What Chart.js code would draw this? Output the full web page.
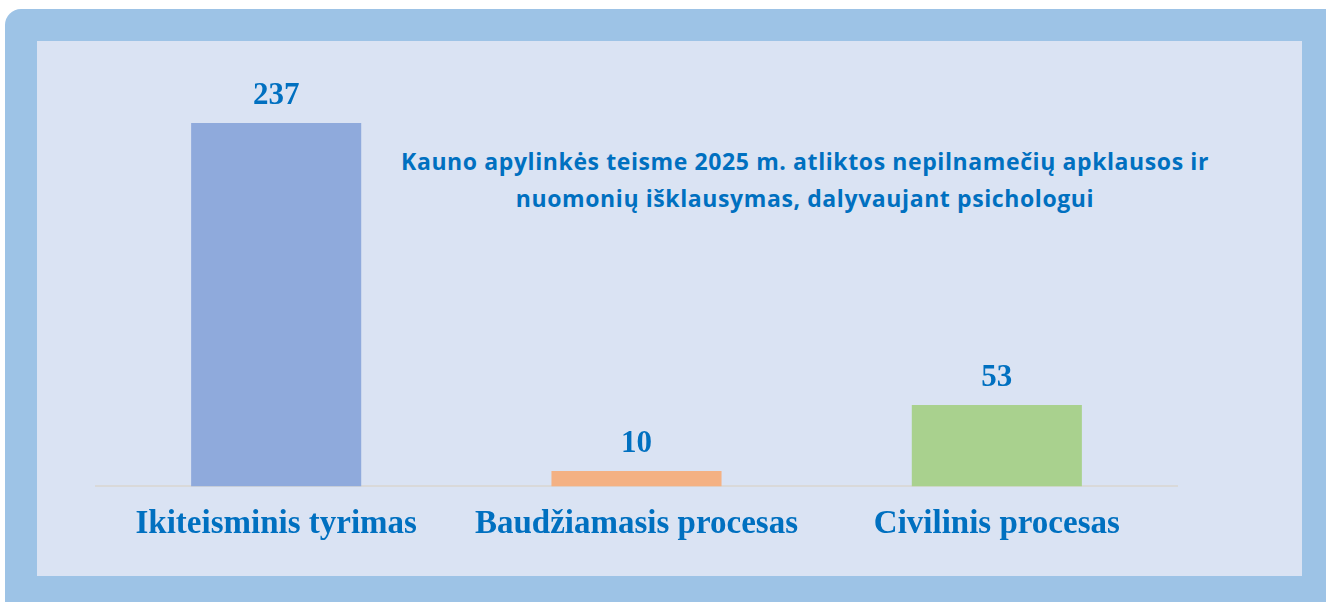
<!DOCTYPE html>
<html>
<head>
<meta charset="utf-8">
<script src="https://cdn.jsdelivr.net/npm/chart.js@4"></script>
<style>
  html, body { margin: 0; padding: 0; background: #ffffff; overflow: hidden; }
  #frame {
    position: absolute; left: 5px; top: 9px; width: 1340px; height: 610px;
    background: #9dc3e6; border-radius: 16px;
  }
  #panel {
    position: absolute; left: 37px; top: 41px; width: 1265px; height: 535px;
    background: #dae3f3;
  }
  #title {
    position: absolute; left: 355px; top: 143px; width: 900px;
    text-align: center; color: #0070c0;
    font-family: "Open Sans", sans-serif; font-weight: bold; font-size: 23px;
    letter-spacing: 0.6px; line-height: 37px;
  }
  #myChart { position: absolute; left: 0; top: 0; }
</style>
</head>
<body>
<div id="frame"></div>
<div id="panel"></div>
<div id="title">Kauno apylinkės teisme 2025 m. atliktos nepilnamečių apklausos ir<br>nuomonių išklausymas, dalyvaujant psichologui</div>
<canvas id="myChart" width="1326" height="602"></canvas>
<script>
// Chart data
const categories = ["Ikiteisminis tyrimas", "Baudžiamasis procesas", "Civilinis procesas"];
const values = [237, 10, 53];
const barColors = ["#8faadc", "#f4b183", "#a9d18e"];

const textColor = "#0070c0";
const ctx = document.getElementById('myChart');

// Draws the value above each bar
const valueLabels = {
  id: 'valueLabels',
  afterDatasetsDraw(chart) {
    const c = chart.ctx;
    const meta = chart.getDatasetMeta(0);
    c.save();
    c.font = 'bold 31px "Liberation Serif", "Times New Roman", serif';
    c.fillStyle = textColor;
    c.textAlign = 'center';
    c.textBaseline = 'alphabetic';
    meta.data.forEach((bar, i) => {
      c.fillText(String(values[i]), bar.x, bar.y - 19);
    });
    c.restore();
  }
};

const myChart = new Chart(ctx, {
  type: 'bar',
  data: {
    labels: categories,
    datasets: [{
      data: values,
      backgroundColor: barColors,
      borderWidth: 0,
      categoryPercentage: 1,
      barPercentage: 0.472
    }]
  },
  options: {
    responsive: false,
    animation: false,
    layout: {
      padding: { left: 96, right: 149, top: 57, bottom: 40 }
    },
    plugins: {
      legend: { display: false },
      tooltip: { enabled: false }
    },
    scales: {
      x: {
        grid: { display: false, drawTicks: false },
        border: { display: true, color: '#d9d9d9', width: 2 },
        ticks: {
          color: textColor,
          padding: 18,
          maxRotation: 0,
          font: { family: '"Liberation Serif", "Times New Roman", serif', weight: 'bold', size: 33 }
        }
      },
      y: {
        display: false,
        min: 0,
        max: 280
      }
    }
  },
  plugins: [valueLabels]
});
</script>
</body>
</html>
